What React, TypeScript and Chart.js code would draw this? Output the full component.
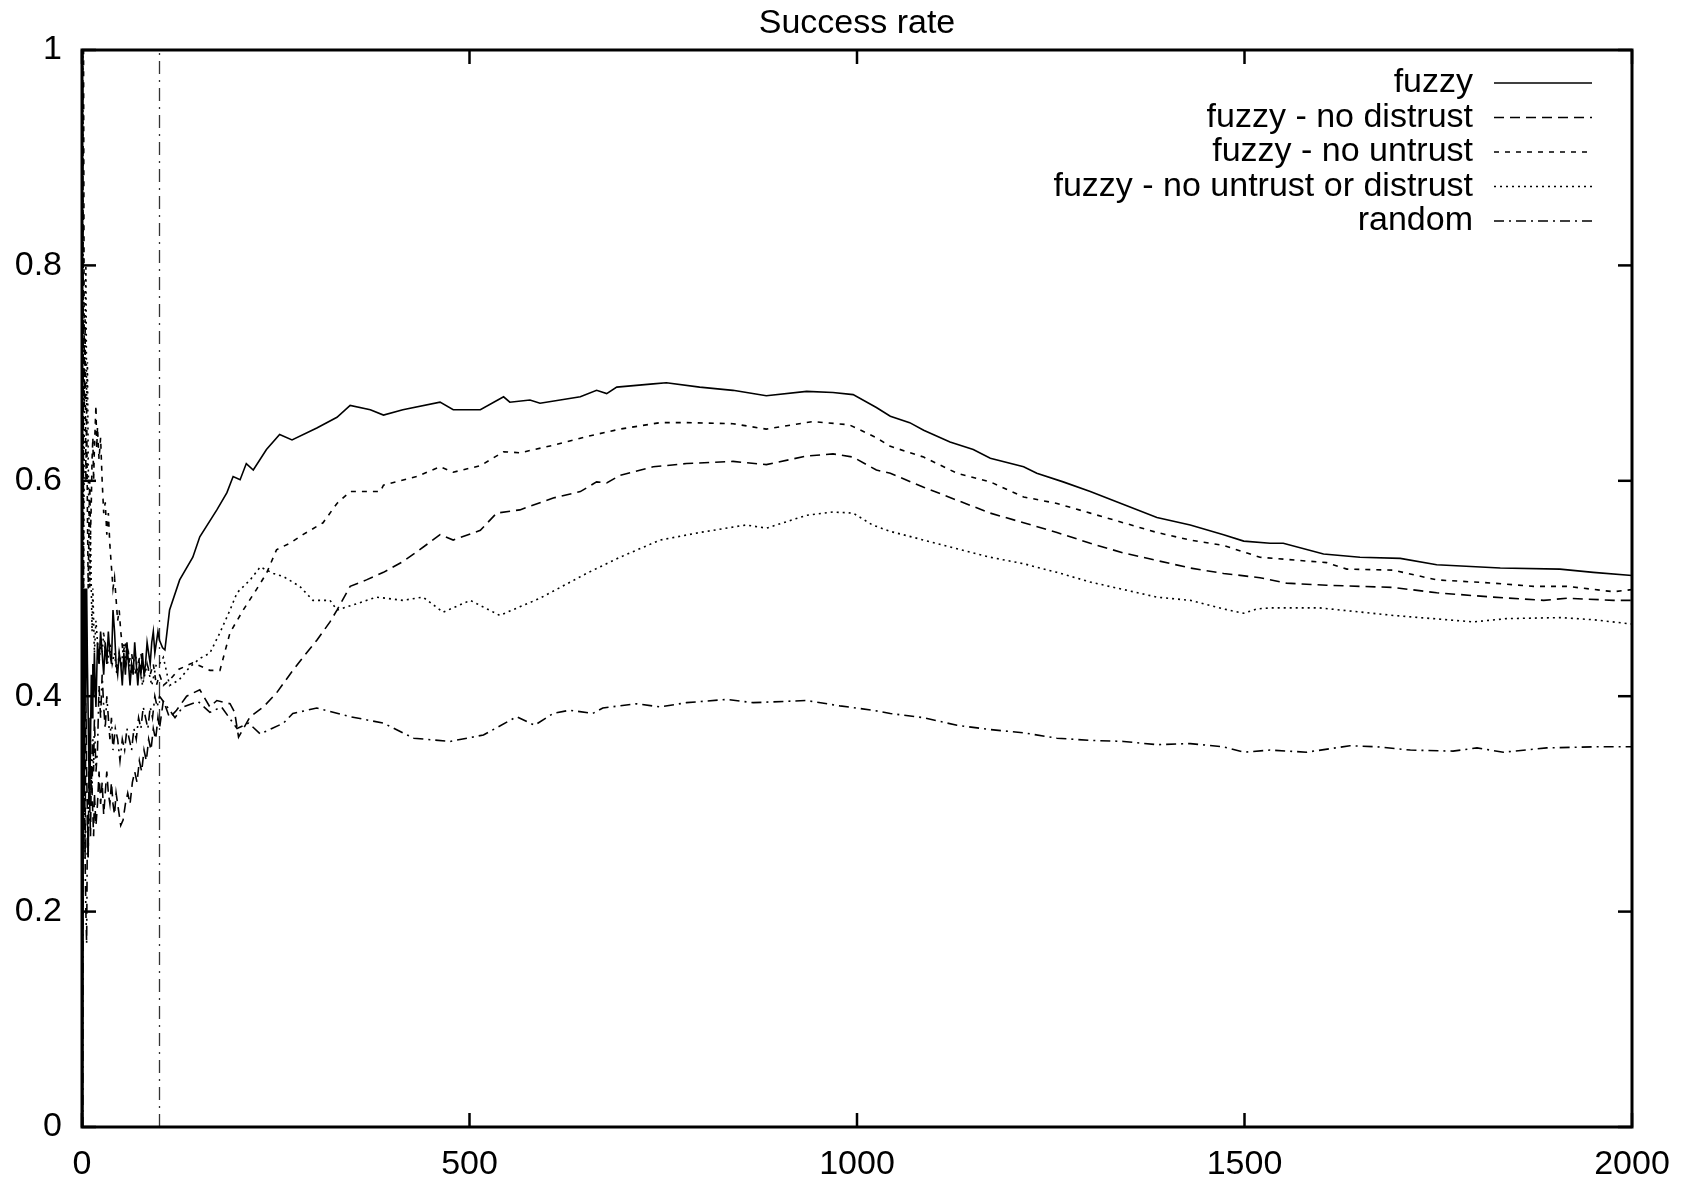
import React, { useEffect, useRef } from 'react';
import { Chart, registerables } from 'chart.js';

Chart.register(...registerables);

const TITLE = 'Success rate';
const X_TICKS = [0, 500, 1000, 1500, 2000];
const Y_TICKS = [0, 0.2, 0.4, 0.6, 0.8, 1];
const SERIES_LABELS = [
  'fuzzy',
  'fuzzy - no distrust',
  'fuzzy - no untrust',
  'fuzzy - no untrust or distrust',
  'random',
];

const fuzzy: [number, number][] = [
  [1, 0], [2, 0.5], [3, 0.33], [4, 0.5], [5, 0.4], [6, 0.5], [7, 0.43], [8, 0.38], [9, 0.33], [10, 0.3],
  [11, 0.36], [12, 0.42], [13, 0.38], [14, 0.43], [15, 0.4], [16, 0.44], [17, 0.41], [18, 0.39], [19, 0.42], [20, 0.45],
  [22, 0.43], [24, 0.46], [26, 0.44], [28, 0.42], [30, 0.45], [32, 0.43], [34, 0.46], [36, 0.44], [38, 0.43], [40, 0.48],
  [42, 0.46], [44, 0.43], [46, 0.42], [48, 0.44], [50, 0.43], [52, 0.41], [54, 0.44], [56, 0.42], [58, 0.45], [60, 0.43],
  [62, 0.41], [64, 0.43], [66, 0.42], [68, 0.45], [70, 0.43], [72, 0.41], [74, 0.43], [76, 0.42], [78, 0.44], [80, 0.42],
  [82, 0.43], [84, 0.45], [86, 0.44], [88, 0.43], [90, 0.45], [92, 0.46], [94, 0.44], [96, 0.45], [98, 0.46], [100, 0.452],
  [104, 0.445], [107, 0.443], [113, 0.48], [126, 0.508], [143, 0.529], [152, 0.548], [174, 0.573], [187, 0.589], [195, 0.604], [204, 0.601],
  [212, 0.616], [221, 0.61], [238, 0.629], [255, 0.643], [271, 0.638], [303, 0.649], [329, 0.659], [346, 0.67], [372, 0.666], [389, 0.661],
  [414, 0.666], [462, 0.673], [479, 0.666], [514, 0.666], [544, 0.678], [552, 0.673], [578, 0.675], [591, 0.672], [643, 0.678], [664, 0.684],
  [677, 0.681], [690, 0.687], [737, 0.69], [754, 0.691], [797, 0.687], [840, 0.684], [883, 0.679], [935, 0.683], [969, 0.682], [995, 0.68],
  [1025, 0.668], [1043, 0.66], [1068, 0.654], [1086, 0.647], [1120, 0.636], [1150, 0.629], [1172, 0.621], [1215, 0.613], [1232, 0.607], [1266, 0.599],
  [1301, 0.59], [1344, 0.578], [1387, 0.566], [1430, 0.559], [1473, 0.55], [1499, 0.544], [1533, 0.542], [1550, 0.542], [1602, 0.532], [1649, 0.529],
  [1701, 0.528], [1748, 0.522], [1830, 0.519], [1907, 0.518], [1950, 0.515], [2000, 0.512],
];

const noDistrust: [number, number][] = [
  [1, 1], [2, 0.5], [3, 0.33], [4, 0.25], [5, 0.4], [6, 0.33], [7, 0.29], [8, 0.25], [9, 0.33], [10, 0.3],
  [11, 0.27], [12, 0.33], [13, 0.31], [14, 0.29], [15, 0.27], [16, 0.31], [18, 0.28], [20, 0.3], [22, 0.33], [24, 0.3],
  [26, 0.32], [28, 0.29], [30, 0.31], [32, 0.33], [34, 0.31], [36, 0.3], [38, 0.32], [40, 0.3], [42, 0.29], [44, 0.31],
  [46, 0.3], [48, 0.29], [50, 0.28], [53, 0.285], [56, 0.3], [59, 0.31], [62, 0.3], [65, 0.32], [68, 0.33], [71, 0.32],
  [74, 0.34], [77, 0.33], [80, 0.35], [83, 0.34], [86, 0.36], [89, 0.35], [92, 0.37], [95, 0.36], [98, 0.38], [100, 0.37],
  [105, 0.396], [113, 0.38], [122, 0.387], [135, 0.4], [152, 0.406], [165, 0.39], [174, 0.396], [191, 0.393], [197, 0.385], [202, 0.362],
  [217, 0.381], [234, 0.39], [251, 0.403], [268, 0.42], [285, 0.436], [303, 0.452], [320, 0.469], [329, 0.48], [346, 0.502], [367, 0.508],
  [389, 0.515], [414, 0.525], [432, 0.534], [462, 0.55], [479, 0.545], [514, 0.554], [535, 0.57], [565, 0.573], [608, 0.584], [643, 0.59],
  [664, 0.599], [677, 0.598], [694, 0.605], [737, 0.613], [780, 0.616], [840, 0.618], [883, 0.615], [935, 0.623], [969, 0.625], [995, 0.622],
  [1025, 0.61], [1043, 0.607], [1086, 0.594], [1129, 0.582], [1172, 0.57], [1215, 0.561], [1258, 0.552], [1301, 0.542], [1344, 0.533], [1387, 0.526],
  [1430, 0.519], [1473, 0.514], [1520, 0.51], [1554, 0.505], [1606, 0.503], [1692, 0.501], [1748, 0.496], [1821, 0.492], [1886, 0.489], [1916, 0.491],
  [1976, 0.489], [2000, 0.489],
];

const noUntrust: [number, number][] = [
  [1, 1], [2, 1], [3, 0.67], [4, 0.75], [5, 0.6], [6, 0.67], [7, 0.57], [8, 0.5], [9, 0.56], [10, 0.6],
  [11, 0.55], [12, 0.58], [13, 0.62], [14, 0.64], [15, 0.6], [16, 0.63], [17, 0.65], [18, 0.67], [19, 0.63], [20, 0.65],
  [22, 0.62], [24, 0.64], [26, 0.6], [28, 0.57], [30, 0.58], [32, 0.55], [34, 0.57], [36, 0.54], [38, 0.52], [40, 0.5],
  [42, 0.51], [44, 0.49], [46, 0.47], [48, 0.48], [50, 0.46], [53, 0.44], [56, 0.45], [60, 0.43], [64, 0.44], [68, 0.42],
  [72, 0.43], [76, 0.44], [80, 0.42], [84, 0.43], [88, 0.42], [92, 0.43], [96, 0.41], [100, 0.42], [105, 0.41], [113, 0.415],
  [125, 0.425], [143, 0.431], [165, 0.424], [178, 0.424], [191, 0.459], [208, 0.48], [225, 0.499], [238, 0.514], [251, 0.536], [268, 0.542],
  [285, 0.55], [311, 0.561], [329, 0.579], [346, 0.59], [385, 0.59], [389, 0.596], [432, 0.604], [462, 0.613], [479, 0.608], [514, 0.614],
  [544, 0.627], [565, 0.626], [608, 0.633], [651, 0.641], [694, 0.648], [746, 0.654], [780, 0.654], [840, 0.653], [883, 0.648], [943, 0.655],
  [990, 0.652], [1025, 0.64], [1043, 0.632], [1086, 0.622], [1129, 0.607], [1172, 0.599], [1215, 0.585], [1258, 0.579], [1301, 0.57], [1344, 0.561],
  [1387, 0.552], [1430, 0.545], [1473, 0.54], [1520, 0.529], [1606, 0.524], [1632, 0.518], [1692, 0.517], [1748, 0.508], [1821, 0.505], [1873, 0.502],
  [1916, 0.502], [1976, 0.497], [2000, 0.499],
];

const noUntrustOrDistrust: [number, number][] = [
  [1, 1], [2, 0.5], [3, 0.67], [4, 0.75], [5, 0.8], [6, 0.67], [7, 0.71], [8, 0.62], [9, 0.56], [10, 0.5],
  [11, 0.55], [12, 0.5], [13, 0.46], [14, 0.5], [15, 0.47], [16, 0.44], [18, 0.47], [20, 0.45], [22, 0.43], [24, 0.45],
  [26, 0.44], [28, 0.46], [30, 0.44], [33, 0.43], [36, 0.45], [39, 0.43], [42, 0.44], [45, 0.42], [48, 0.44], [51, 0.43],
  [54, 0.45], [57, 0.43], [60, 0.44], [63, 0.42], [66, 0.43], [69, 0.44], [72, 0.42], [75, 0.43], [78, 0.41], [81, 0.42],
  [84, 0.43], [87, 0.42], [90, 0.41], [93, 0.42], [96, 0.43], [100, 0.43], [105, 0.436], [113, 0.41], [125, 0.415], [139, 0.427],
  [152, 0.435], [165, 0.44], [178, 0.459], [191, 0.48], [200, 0.496], [217, 0.508], [230, 0.52], [247, 0.514], [260, 0.511], [281, 0.502],
  [298, 0.489], [320, 0.489], [329, 0.48], [355, 0.486], [380, 0.492], [414, 0.489], [440, 0.492], [466, 0.478], [501, 0.489], [539, 0.475],
  [565, 0.483], [591, 0.491], [651, 0.514], [694, 0.529], [746, 0.545], [797, 0.552], [857, 0.559], [883, 0.556], [935, 0.568], [969, 0.571],
  [995, 0.57], [1020, 0.559], [1043, 0.553], [1086, 0.545], [1129, 0.537], [1172, 0.529], [1215, 0.523], [1258, 0.515], [1301, 0.506], [1344, 0.499],
  [1387, 0.492], [1430, 0.489], [1473, 0.481], [1499, 0.477], [1516, 0.481], [1533, 0.482], [1597, 0.482], [1692, 0.475], [1795, 0.469], [1838, 0.472],
  [1907, 0.473], [1950, 0.471], [2000, 0.467],
];

const randomSel: [number, number][] = [
  [1, 0], [2, 0.5], [3, 0.33], [4, 0.25], [5, 0.2], [6, 0.17], [7, 0.29], [8, 0.25], [9, 0.33], [10, 0.3],
  [11, 0.36], [12, 0.33], [13, 0.31], [14, 0.36], [15, 0.33], [16, 0.38], [18, 0.33], [20, 0.35], [22, 0.41], [24, 0.38],
  [26, 0.42], [28, 0.39], [30, 0.37], [32, 0.4], [34, 0.38], [36, 0.36], [38, 0.38], [40, 0.35], [43, 0.37], [46, 0.36],
  [49, 0.34], [52, 0.36], [55, 0.35], [58, 0.37], [61, 0.36], [64, 0.35], [67, 0.37], [70, 0.36], [73, 0.38], [76, 0.37],
  [79, 0.39], [82, 0.38], [85, 0.37], [88, 0.39], [91, 0.38], [94, 0.4], [97, 0.39], [100, 0.4], [110, 0.39], [120, 0.38],
  [130, 0.39], [150, 0.395], [165, 0.385], [180, 0.39], [200, 0.37], [215, 0.375], [230, 0.365], [245, 0.37], [260, 0.375], [272, 0.384],
  [303, 0.389], [346, 0.381], [389, 0.375], [428, 0.361], [475, 0.358], [518, 0.364], [561, 0.381], [584, 0.373], [608, 0.384], [629, 0.387],
  [659, 0.384], [672, 0.389], [715, 0.393], [746, 0.39], [780, 0.394], [832, 0.397], [866, 0.394], [935, 0.396], [978, 0.391], [1020, 0.387],
  [1043, 0.384], [1086, 0.38], [1129, 0.373], [1172, 0.369], [1215, 0.366], [1258, 0.361], [1301, 0.359], [1344, 0.358], [1387, 0.355], [1430, 0.356],
  [1473, 0.353], [1499, 0.348], [1533, 0.35], [1580, 0.348], [1636, 0.354], [1671, 0.353], [1714, 0.35], [1769, 0.349], [1800, 0.352], [1834, 0.348],
  [1890, 0.352], [1950, 0.353], [2000, 0.353],
];

const phaseMarker: [number, number][] = [[100, 0], [100, 1]];

const SERIES = [fuzzy, noDistrust, noUntrust, noUntrustOrDistrust, randomSel];
const DASHES: number[][] = [[], [10, 6], [5, 6], [2, 4], [10, 5, 2, 5]];
const FONT = "'Liberation Sans', Arial, Helvetica, sans-serif";
const FONT_SIZE = 34;

const framePlugin = {
  id: 'gnuFrame',
  afterDatasetsDraw(chart: any) {
    const { ctx, chartArea: a, scales } = chart;
    ctx.save();
    ctx.strokeStyle = '#000';
    ctx.setLineDash([]);
    ctx.lineWidth = 2.5;
    const seg = (x1: number, y1: number, x2: number, y2: number) => {
      ctx.beginPath();
      ctx.moveTo(x1, y1);
      ctx.lineTo(x2, y2);
      ctx.stroke();
    };
    const L = 14;
    for (const v of Y_TICKS) {
      const y = scales.y.getPixelForValue(v);
      seg(a.left, y, a.left + L, y);
      seg(a.right - L, y, a.right, y);
    }
    for (const v of X_TICKS) {
      const x = scales.x.getPixelForValue(v);
      seg(x, a.bottom, x, a.bottom - L);
      seg(x, a.top, x, a.top + L);
    }
    ctx.lineWidth = 3;
    ctx.strokeRect(a.left, a.top, a.right - a.left, a.bottom - a.top);

    ctx.font = `${FONT_SIZE}px ${FONT}`;
    ctx.fillStyle = '#000';

    // title centred over the plot box
    ctx.textAlign = 'center';
    ctx.textBaseline = 'middle';
    ctx.fillText(TITLE, (a.left + a.right) / 2, a.top - 26);

    // key (gnuplot style: text right aligned, sample on right)
    ctx.textAlign = 'right';
    const textRight = a.right - 159;
    const sx1 = a.right - 138;
    const sx2 = a.right - 40;
    SERIES_LABELS.forEach((label, i) => {
      const y = a.top + 33 + i * 34.5;
      ctx.fillText(label, textRight, y);
      ctx.lineWidth = 1.6;
      ctx.setLineDash(DASHES[i]);
      seg(sx1, y, sx2, y);
    });
    ctx.restore();
  },
};

export default function App() {
  const ref = useRef<HTMLCanvasElement>(null);
  useEffect(() => {
    if (!ref.current) return;
    const datasets: any[] = SERIES.map((s, i) => ({
      label: SERIES_LABELS[i],
      data: s.map(([x, y]) => ({ x, y })),
      borderColor: '#000',
      borderWidth: 1.6,
      borderDash: DASHES[i],
      pointRadius: 0,
      tension: 0,
      fill: false,
    }));
    datasets.push({
      label: 'phase',
      data: phaseMarker.map(([x, y]) => ({ x, y })),
      borderColor: '#333',
      borderWidth: 1.3,
      borderDash: [13, 6, 2, 6],
      pointRadius: 0,
      fill: false,
    });
    const chart = new Chart(ref.current, {
      type: 'line',
      data: { datasets },
      plugins: [framePlugin],
      options: {
        animation: false,
        responsive: false,
        devicePixelRatio: 1,
        layout: { padding: { left: 0, right: 59, top: 50, bottom: 0 } },
        plugins: {
          legend: { display: false },
          tooltip: { enabled: false },
          title: { display: false },
        },
        scales: {
          x: {
            type: 'linear',
            min: 0,
            max: 2000,
            afterBuildTicks: (scale: any) => {
              scale.ticks = X_TICKS.map((v) => ({ value: v }));
            },
            afterFit: (scale: any) => {
              scale.height = 53;
            },
            grid: { display: false, drawTicks: false },
            border: { display: false },
            ticks: {
              color: '#000',
              font: { family: FONT, size: FONT_SIZE },
              padding: 17,
              maxRotation: 0,
              autoSkip: false,
              callback: (v: any) => String(v),
            },
          },
          y: {
            type: 'linear',
            min: 0,
            max: 1,
            afterBuildTicks: (scale: any) => {
              scale.ticks = Y_TICKS.map((v) => ({ value: v }));
            },
            afterFit: (scale: any) => {
              scale.width = 82;
            },
            grid: { display: false, drawTicks: false },
            border: { display: false },
            ticks: {
              color: '#000',
              font: { family: FONT, size: FONT_SIZE },
              padding: 20,
              callback: (v: any) => String(Math.round(Number(v) * 10) / 10),
            },
          },
        },
      } as any,
    });
    return () => chart.destroy();
  }, []);
  return (
    <div style={{ position: 'fixed', left: 0, top: 0, width: 1691, height: 1180, background: '#fff' }}>
      <canvas ref={ref} width={1691} height={1180} style={{ display: 'block', width: 1691, height: 1180 }} />
    </div>
  );
}
